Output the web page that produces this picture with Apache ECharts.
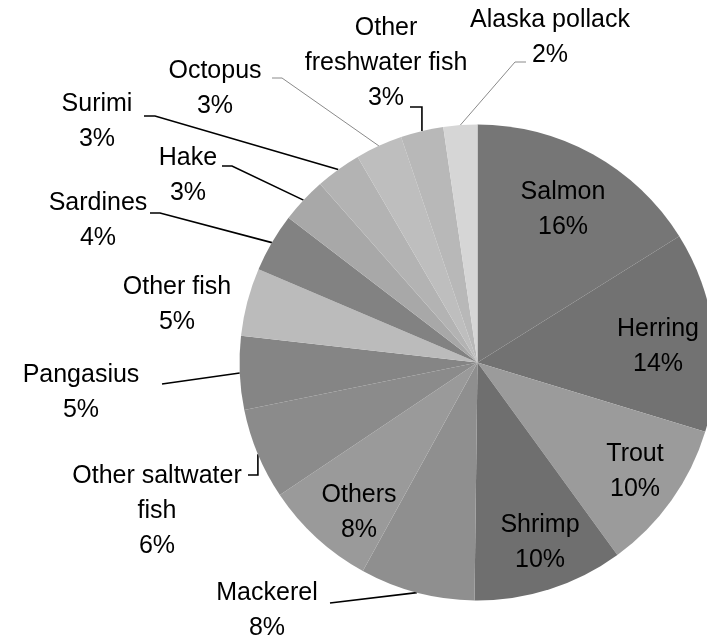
<!DOCTYPE html>
<html>
<head>
<meta charset="utf-8">
<script src="https://cdn.jsdelivr.net/npm/echarts@6/dist/echarts.min.js"></script>
<style>
html,body{margin:0;padding:0;background:#fff;}
#chart{width:707px;height:641px;}
</style>
</head>
<body>
<div id="chart"></div>
<script>
// Data (clockwise from 12 o'clock)
const categories = ['Salmon','Herring','Trout','Shrimp','Mackerel','Others','Other saltwater fish','Pangasius','Other fish','Sardines','Hake','Surimi','Octopus','Other freshwater fish','Alaska pollack'];
const values = [16.1, 13.6, 10.3, 10.2, 7.8, 7.6, 6.2, 5.0, 4.6, 4.0, 3.1, 3.1, 3.2, 2.9, 2.3];
const labelText = ['Salmon','Herring','Trout','Shrimp','Mackerel','Others','Other saltwater\nfish','Pangasius','Other fish','Sardines','Hake','Surimi','Octopus','Other\nfreshwater fish','Alaska pollack'];

// styling / layout (not data)
const colors = ['#767676','#727272','#9b9b9b','#6f6f6f','#8f8f8f','#9a9a9a','#8b8b8b','#858585','#bbbbbb','#828282','#a8a8a8','#b3b3b3','#bebebe','#b8b8b8','#d6d6d6'];
const inside = [true,true,true,true,false,true,false,false,false,false,false,false,false,false,false];
// label block centres
const labelPos = [[563,210],[658,347],[635,472],[540,543],[267,611],[359,513],[157,511],[81,393],[177,305],[98,221],[188,176],[97,122],[215,89],[386,63],[550,38]];
// leader line bends (after the point on the rim); null = no line
const bends = [null,null,null,null,
  [[330,603]],
  null,
  [['rim',475],[248,475]],
  [[162,384]],
  null,
  [[160,213],[150,213]],
  [[232,166],[222,166]],
  [[155,116],[144,116]],
  [[282,78],[272,78]],
  [['rim',107],[410,107]],
  [[515,62],[526,62]]
];
const thinLine = {12:true, 14:true};

const chart = echarts.init(document.getElementById('chart'), null, {renderer:'canvas'});
const data = categories.map((c,i)=>({
  name:c, value:values[i],
  itemStyle:{color:colors[i]},
  label:{position: inside[i] ? 'inside' : 'outside'},
  labelLine:{show: !!bends[i], lineStyle: thinLine[i] ? {color:'#8a8a8a', width:1} : {color:'#000', width:1.6}}
}));

chart.setOption({
  animation:false,
  series:[{
    type:'pie',
    center:[477.5,362.5],
    radius:[0,238],
    startAngle:90,
    clockwise:true,
    avoidLabelOverlap:false,
    percentPrecision:0,
    itemStyle:{borderWidth:0},
    label:{
      show:true,
      formatter:(p)=> labelText[p.dataIndex] + '\n' + p.percent + '%',
      fontFamily:'Liberation Sans, Arial, sans-serif',
      fontSize:25,
      lineHeight:35,
      color:'#000',
      align:'center'
    },
    labelLine:{show:true, length:10, length2:10, smooth:false},
    labelLayout:(params)=>{
      const i = params.dataIndex;
      const res = {x:labelPos[i][0], y:labelPos[i][1], align:'center', verticalAlign:'middle'};
      if (bends[i] && params.labelLinePoints) {
        const rim = params.labelLinePoints[0];
        const pts = [[rim[0], rim[1]]];
        bends[i].forEach(b=>{ pts.push([b[0]==='rim' ? rim[0] : b[0], b[1]]); });
        while (pts.length < 3) pts.splice(1,0,[pts[0][0],pts[0][1]]);
        res.labelLinePoints = pts;
      }
      return res;
    },
    data:data
  }]
});
</script>
</body>
</html>
